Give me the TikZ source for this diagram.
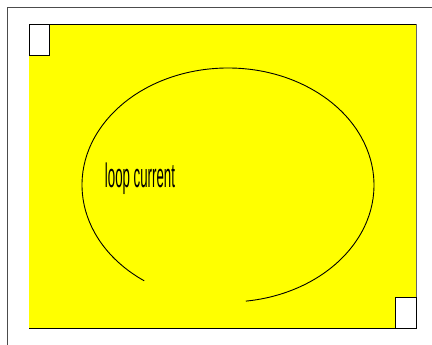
\documentclass[tikz,border=0pt]{standalone}
\usepackage{fontspec}
\setsansfont{Liberation Sans}
\definecolor{platefill}{RGB}{255,255,0}
\begin{document}
\begin{tikzpicture}[
  x=1pt, y=-1pt,
  frame/.style={draw=black!70, line width=0.9pt},
  plate/.style={fill=platefill},
  corner/.style={fill=white, draw=black, line width=0.8pt},
  loopline/.style={draw=black, line width=0.9pt},
  every node/.style={font=\sffamily},
]
\useasboundingbox (0,0) rectangle (432,345);
% outer frame
\draw[frame] (7,345) -- (7,7) -- (432,7);

% yellow plate
\fill[plate] (29,24) rectangle (416,328);
\draw[line width=0.9pt] (29,24) -- (416,24);
\draw[line width=0.9pt] (29,328) -- (416,328);
\draw[black!60, line width=0.4pt] (416,24) -- (416,328);

% corner boxes
\filldraw[corner] (29,24) rectangle (49,55);
\filldraw[corner] (395,297) rectangle (416,328);

% loop
\draw[loopline] (228,185) ++(125:146 and 117) arc[start angle=125, end angle=443, x radius=146, y radius=117];

% label
\node[font=\sffamily\fontsize{34}{34}\selectfont, xscale=0.39, inner sep=0pt] (label) at (140,178.5) {loop current};

\end{tikzpicture}
\end{document}
